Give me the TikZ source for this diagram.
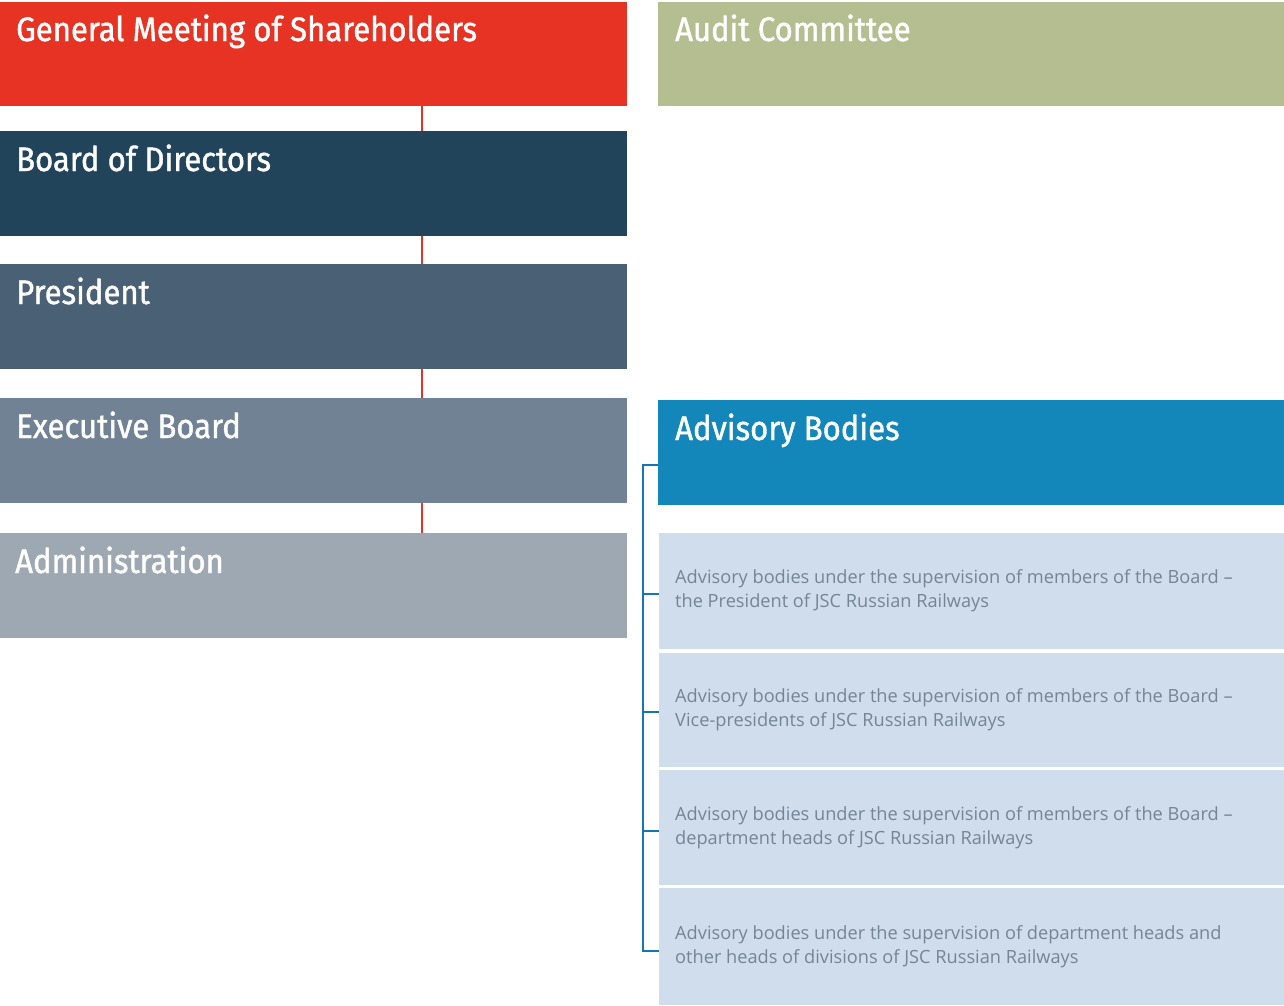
\documentclass[tikz,border=0pt]{standalone}
\usepackage{fontspec}
\setmainfont{Open Sans}
\newfontfamily\titlefont[FakeStretch=0.914,FakeBold=1.2]{Fira Sans}
\usetikzlibrary{calc}
\definecolor{cgms}{HTML}{E63323}
\definecolor{cboard}{HTML}{22445A}
\definecolor{cpres}{HTML}{4A6074}
\definecolor{cexec}{HTML}{718295}
\definecolor{cadmin}{HTML}{9EA8B3}
\definecolor{caudit}{HTML}{B5BE90}
\definecolor{cadv}{HTML}{1386BA}
\definecolor{csub}{HTML}{D0DDEC}
\definecolor{csubtext}{HTML}{758595}
\definecolor{cbrack}{HTML}{1676B0}
\begin{document}
\begin{tikzpicture}[x=1pt,y=-1pt,
  box/.style={anchor=north west, inner sep=0pt, outer sep=0pt, minimum width=627pt, minimum height=105pt},
  rbox/.style={anchor=north west, inner sep=0pt, outer sep=0pt, minimum width=626pt, minimum height=105pt},
  subbox/.style={anchor=north west, inner sep=0pt, outer sep=0pt, minimum width=625pt, fill=csub},
  title/.style={anchor=base west, inner sep=0pt, text=white, font=\titlefont\fontsize{34}{40}\selectfont},
  subtext/.style={anchor=west, inner sep=0pt, align=left, text=csubtext, font=\fontsize{18.2}{24}\selectfont},
  redline/.style={draw=cgms, line width=2.8pt},
  blueline/.style={draw=cbrack, line width=2.8pt}]
\useasboundingbox (0,0) rectangle (1284,1005);
% left column
\node[box, fill=cgms, minimum height=104pt] (gms) at (0,2) {};
\node[box, fill=cboard] (board) at (0,131) {};
\node[box, fill=cpres] (pres) at (0,264) {};
\node[box, fill=cexec] (exec) at (0,398) {};
\node[box, fill=cadmin] (admin) at (0,533) {};
% right column
\node[rbox, fill=caudit, minimum height=104pt] (audit) at (658,2) {};
\node[rbox, fill=cadv] (adv) at (658,400) {};
\node[subbox, minimum height=116pt] (s1) at (659,533) {};
\node[subbox, minimum height=114pt] (s2) at (659,653) {};
\node[subbox, minimum height=115pt] (s3) at (659,770) {};
\node[subbox, minimum height=117pt] (s4) at (659,888) {};
% titles
\node[title] (tgms) at ($(gms.north west)+(16,39)$) {General Meeting of Shareholders};
\node[title] (tboard) at ($(board.north west)+(16,40)$) {Board of Directors};
\node[title] (tpres) at ($(pres.north west)+(16,40)$) {President};
\node[title] (texec) at ($(exec.north west)+(16,40)$) {Executive Board};
\node[title] (tadmin) at ($(admin.north west)+(15,40)$) {Administration};
\node[title] (taudit) at ($(audit.north west)+(17,39)$) {Audit Committee};
\node[title] (tadv) at ($(adv.north west)+(17,40)$) {Advisory Bodies};
% sub texts
\node[subtext] (ts1) at ($(s1.west)+(16,0)$) {Advisory bodies under the supervision of members of the Board –\\the President of JSC Russian Railways};
\node[subtext] (ts2) at ($(s2.west)+(16,0)$) {Advisory bodies under the supervision of members of the Board –\\Vice-presidents of JSC Russian Railways};
\node[subtext] (ts3) at ($(s3.west)+(16,0)$) {Advisory bodies under the supervision of members of the Board –\\department heads of JSC Russian Railways};
\node[subtext] (ts4) at ($(s4.west)+(16,0)$) {Advisory bodies under the supervision of department heads and\\other heads of divisions of JSC Russian Railways};
% red connectors
\draw[redline] ($(gms.south west)+(422,0)$) -- ($(board.north west)+(422,0)$);
\draw[redline] ($(board.south west)+(422,0)$) -- ($(pres.north west)+(422,0)$);
\draw[redline] ($(pres.south west)+(422,0)$) -- ($(exec.north west)+(422,0)$);
\draw[redline] ($(exec.south west)+(422,0)$) -- ($(admin.north west)+(422,0)$);
% blue bracket
\coordinate (b0) at (643,465);
\coordinate (b1) at (643,594);
\coordinate (b2) at (643,712);
\coordinate (b3) at (643,831);
\coordinate (b4) at (643,951);
\draw[blueline] (b0 -| adv.west) -- (b0) -- (b4) -- (b4 -| s4.west);
\draw[blueline] (b1) -- (b1 -| s1.west);
\draw[blueline] (b2) -- (b2 -| s2.west);
\draw[blueline] (b3) -- (b3 -| s3.west);
\end{tikzpicture}
\end{document}
